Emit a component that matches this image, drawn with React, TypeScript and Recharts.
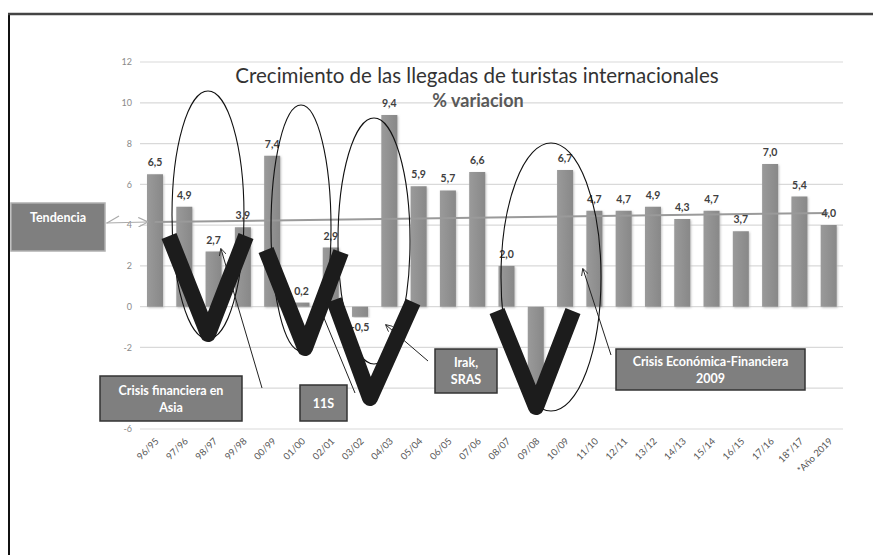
import React from 'react';
import { BarChart, Bar, XAxis, YAxis, CartesianGrid, ReferenceLine, LabelList } from 'recharts';

const periods = [
  '96/95', '97/96', '98/97', '99/98', '00/99', '01/00', '02/01', '03/02', '04/03', '05/04', '06/05', '07/06',
  '08/07', '09/08', '10/09', '11/10', '12/11', '13/12', '14/13', '15/14', '16/15', '17/16', '18*/17', '*Año 2019',
];
const growth = [
  6.5, 4.9, 2.7, 3.9, 7.4, 0.2, 2.9, -0.5, 9.4, 5.9, 5.7, 6.6,
  2.0, -4.0, 6.7, 4.7, 4.7, 4.9, 4.3, 4.7, 3.7, 7.0, 5.4, 4.0,
];
const yTicks = [-6, -4, -2, 0, 2, 4, 6, 8, 10, 12];
const trendStart = 4.15;
const trendEnd = 4.6;

const data = periods.map((p, i) => ({ period: p, value: growth[i] }));

const FONT = 'Lato, "Noto Sans", sans-serif';
const fmt = (v: number) => v.toFixed(1).replace('.', ',');

const ValueLabel = (props: any) => {
  const { x, y, width, height, value } = props;
  const top = Math.min(y, y + height);
  const bottom = Math.max(y, y + height);
  const ty = value < 0 ? bottom + 14 : top - 8;
  return (
    <text x={x + width / 2} y={ty} textAnchor="middle" fontSize={10.5} fontWeight="bold" fill="#404040" fontFamily={FONT}>
      {fmt(value)}
    </text>
  );
};

const Box = ({ x, y, w, h, lines, base, light }: any) => (
  <g>
    <rect x={x} y={y} width={w} height={h} fill="#7f7f7f" stroke={light ? '#b0b0b0' : '#333'} strokeWidth={1.5} />
    {lines.map((t: string, i: number) => (
      <text key={i} x={x + w / 2} y={base + i * 17} textAnchor="middle" fontSize={12.5} fontWeight="bold" fill="#fff" fontFamily={FONT}>
        {t}
      </text>
    ))}
  </g>
);

const Vee = ({ d }: { d: string }) => (
  <path d={d} fill="none" stroke="#1c1c1c" strokeWidth={16} strokeLinejoin="round" strokeLinecap="butt" />
);

const Overlay = () => (
  <svg width={873} height={555} style={{ position: 'absolute', left: 0, top: 0, pointerEvents: 'none' }}>
    <defs>
      <marker id="open" viewBox="0 0 10 10" refX="9" refY="5" markerWidth="7" markerHeight="7" orient="auto-start-reverse">
        <path d="M0,0 L10,5 L0,10" fill="none" stroke="#222" strokeWidth={1.2} />
      </marker>
      <marker id="openGray" viewBox="0 0 10 10" refX="9" refY="5" markerWidth="8" markerHeight="8" orient="auto">
        <path d="M0,0 L10,5 L0,10" fill="none" stroke="#aaa" strokeWidth={1.2} />
      </marker>
    </defs>
    {/* frame */}
    <line x1={9} y1={13} x2={9} y2={555} stroke="#111" strokeWidth={2} />
    <line x1={8} y1={14} x2={873} y2={14} stroke="#444" strokeWidth={2.5} />

    <text x={477} y={83} textAnchor="middle" fontSize={20.5} fill="#333" fontFamily={FONT}>
      Crecimiento de las llegadas de turistas internacionales
    </text>
    <text x={478} y={107} textAnchor="middle" fontSize={18} fontWeight="bold" fill="#595959" fontFamily={FONT}>
      % variacion
    </text>

    {/* ellipses */}
    <ellipse cx={208} cy={215} rx={36} ry={124} fill="none" stroke="#111" strokeWidth={1.1} />
    <ellipse cx={301} cy={228} rx={30} ry={123} fill="none" stroke="#111" strokeWidth={1.1} />
    <ellipse cx={374} cy={241} rx={36} ry={123} fill="none" stroke="#111" strokeWidth={1.1} />
    <ellipse cx={551} cy={277} rx={50} ry={134} fill="none" stroke="#111" strokeWidth={1.1} />

    {/* arrows */}
    <line x1={106} y1={223} x2={147} y2={222} stroke="#aaa" strokeWidth={1.2} markerEnd="url(#openGray)" />
    <line x1={107} y1={223} x2={119} y2={216} stroke="#aaa" strokeWidth={1.2} />
    <line x1={262} y1={388} x2={221} y2={249} stroke="#222" strokeWidth={1} markerEnd="url(#open)" />
    <line x1={355} y1={393} x2={324} y2={318} stroke="#222" strokeWidth={1} />
    <line x1={428} y1={361} x2={386} y2={325} stroke="#222" strokeWidth={1} markerEnd="url(#open)" />
    <line x1={611} y1={355} x2={583} y2={269} stroke="#222" strokeWidth={1} markerEnd="url(#open)" />

    {/* V marks */}
    <Vee d="M169,236 L208,334 L246,236" />
    <Vee d="M266,250 L305,348 L341,252" />
    <Vee d="M334,300 L370,398 L413,302" />
    <Vee d="M497,311 L536,407 L573,311" />

    <Box x={11} y={203} w={94} h={48} lines={['Tendencia']} base={222} light />
    <Box x={100} y={376} w={142} h={45} lines={['Crisis financiera en', 'Asia']} base={395} />
    <Box x={300} y={385} w={47} h={36} lines={['11S']} base={408} />
    <Box x={435} y={349} w={62} h={44} lines={['Irak,', 'SRAS']} base={367} />
    <Box x={616} y={349} w={189} h={41} lines={['Crisis Económica-Financiera', '2009']} base={366} />
  </svg>
);

export default function App() {
  return (
    <div style={{ position: 'absolute', left: 0, top: 0, width: 873, height: 555, background: '#fff' }}>
      <BarChart width={873} height={555} data={data} margin={{ top: 62, right: 30, left: 100, bottom: 66 }}>
        <defs>
          <linearGradient id="barFill" x1="0" y1="0" x2="1" y2="0">
            <stop offset="0%" stopColor="#9a9a9a" />
            <stop offset="100%" stopColor="#888" />
          </linearGradient>
          <filter id="halo" x="-30%" y="-10%" width="160%" height="120%">
            <feDropShadow dx="1" dy="1" stdDeviation="1.2" floodColor="#bdbdbd" floodOpacity="0.9" />
          </filter>
        </defs>
        <CartesianGrid vertical={false} stroke="#d9d9d9" strokeWidth={1.2} />
        <XAxis
          dataKey="period"
          interval={0}
          angle={-45}
          textAnchor="end"
          height={60}
          axisLine={false}
          tickLine={false}
          tick={{ fontSize: 9.5, fill: '#555', fontFamily: FONT }}
        />
        <YAxis
          domain={[-6, 12]}
          ticks={yTicks}
          width={40}
          axisLine={false}
          tickLine={false}
          tick={{ fontSize: 9, fill: '#8a8a8a', fontFamily: FONT }}
        />
        <Bar dataKey="value" fill="url(#barFill)" barSize={16} isAnimationActive={false} style={{ filter: 'url(#halo)' }}>
          <LabelList dataKey="value" content={ValueLabel} />
        </Bar>
        <ReferenceLine
          segment={[
            { x: periods[0], y: trendStart },
            { x: periods[periods.length - 1], y: trendEnd },
          ]}
          stroke="#9a9a9a"
          strokeWidth={2}
        />
      </BarChart>
      <Overlay />
    </div>
  );
}
